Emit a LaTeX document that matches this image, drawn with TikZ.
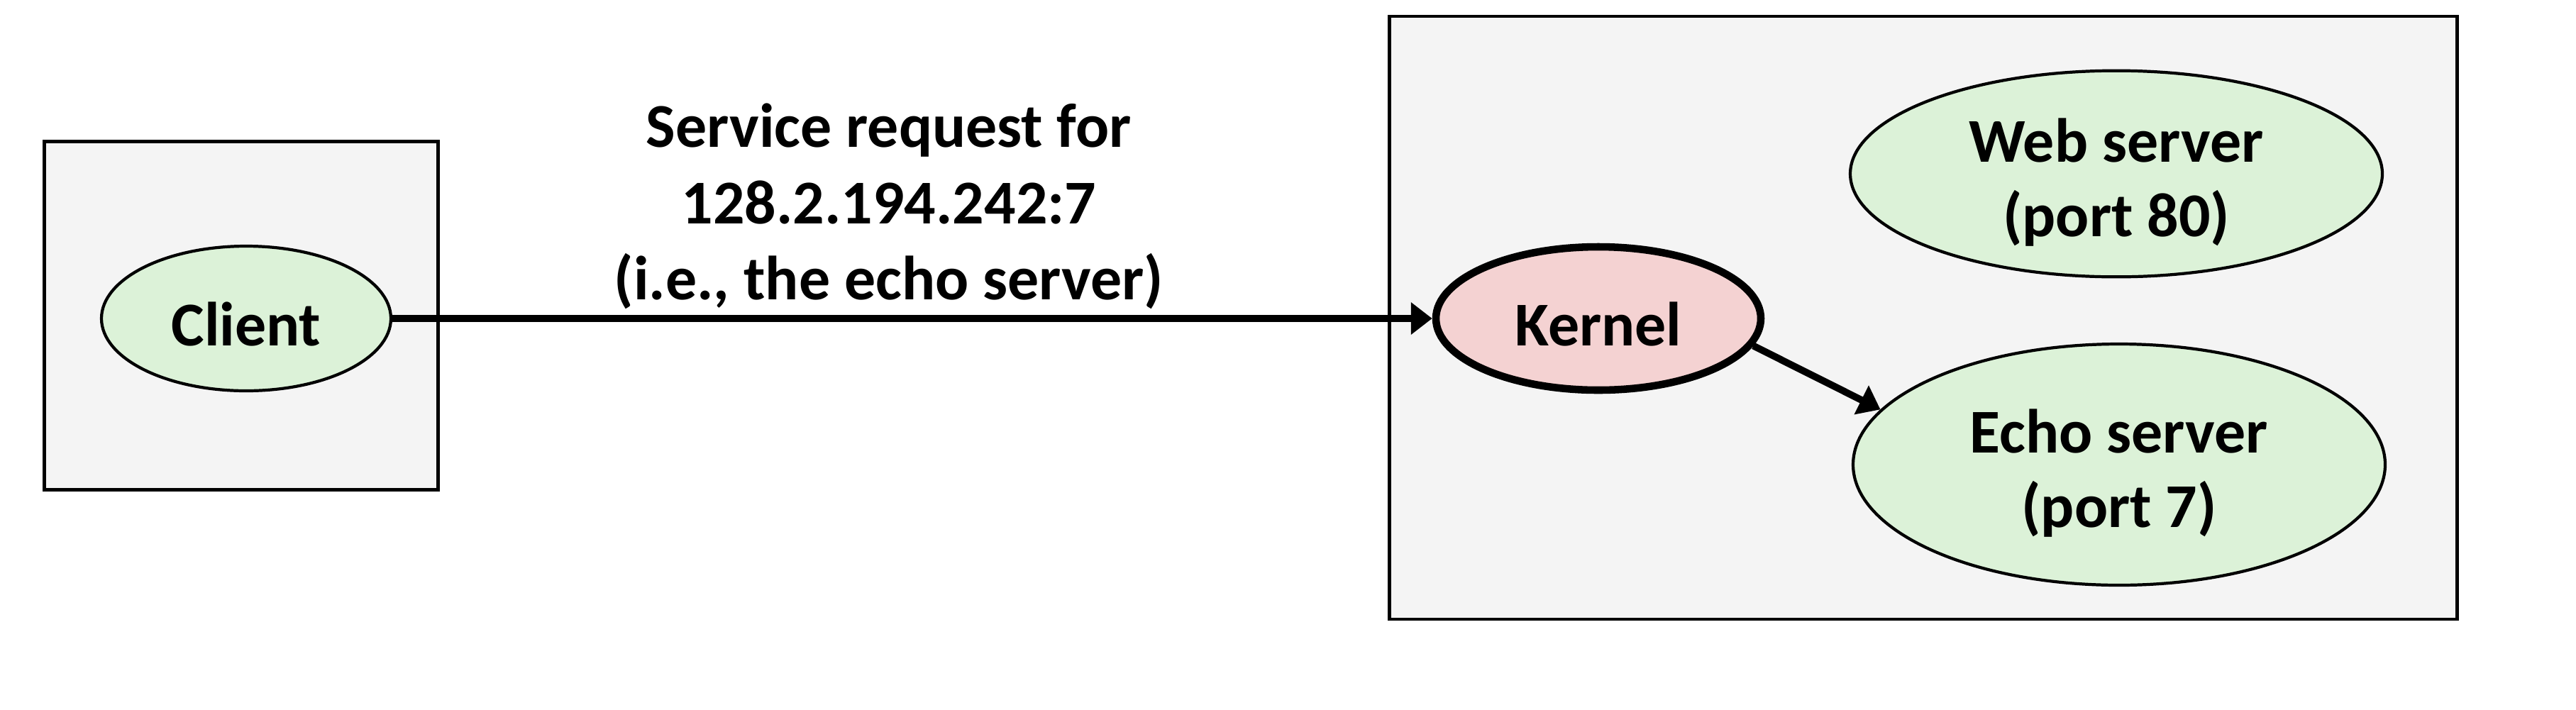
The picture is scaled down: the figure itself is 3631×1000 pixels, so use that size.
\documentclass[tikz,border=0pt]{standalone}
\usepackage{fontspec}
\setmainfont{Carlito}
\usepackage{xcolor}
\usepackage{tikz}
\usetikzlibrary{arrows.meta,shapes.geometric,positioning}
\definecolor{hostfill}{HTML}{F4F4F4}
\definecolor{procfill}{HTML}{DCF2D8}
\definecolor{kernfill}{HTML}{F4D2D2}
\definecolor{ink}{HTML}{000000}
\newcommand{\uplift}[1]{\vphantom{\raisebox{#1}{(}}}
\tikzset{
  host/.style={draw=ink, fill=hostfill, line width=1.4pt, inner sep=0pt},
  proc/.style={ellipse, draw=ink, fill=procfill, line width=1.2pt, inner sep=0pt, align=center, font=\bfseries\fontsize{25}{30}\selectfont},
  kern/.style={proc, fill=kernfill, line width=3pt},
  msg/.style={draw=ink, line width=2.8pt, -{Triangle[length=3mm, width=4.4mm]}},
  lab/.style={text=ink, align=center, font=\bfseries\fontsize{25}{30.5}\selectfont},
}
\begin{document}
\begin{tikzpicture}[x=0.1mm, y=-0.1mm]
\useasboundingbox (0,0) rectangle (3631,1000);
% machines
\node[host, minimum width=55.5mm, minimum height=49.1mm] (clienthost) at (340,445) {};
\node[host, minimum width=150.5mm, minimum height=85mm] (serverhost) at (2711,448) {};
% processes
\node[proc, minimum width=40.8mm, minimum height=20.4mm] (client) at (347,449) {\uplift{3.5pt}Client};
\node[kern, minimum width=45.8mm, minimum height=20.2mm] (kernel) at (2253,449) {\uplift{3.5pt}Kernel};
\node[proc, minimum width=75mm, minimum height=28.8mm] (web) at (2983,245) {\uplift{6pt}Web server\\(port 80)};
\node[proc, minimum width=75mm, minimum height=34mm] (echo) at (2987,655) {\uplift{6pt}Echo server\\(port 7)};
% request
\node[lab] (req) at (1253,291) {Service request for\\128.2.194.242:7\\(i.e., the echo server)};
\draw[msg] (client.east) -- (kernel.west);
\draw[msg] (kernel.-10) -- (echo.167);
\end{tikzpicture}
\end{document}
